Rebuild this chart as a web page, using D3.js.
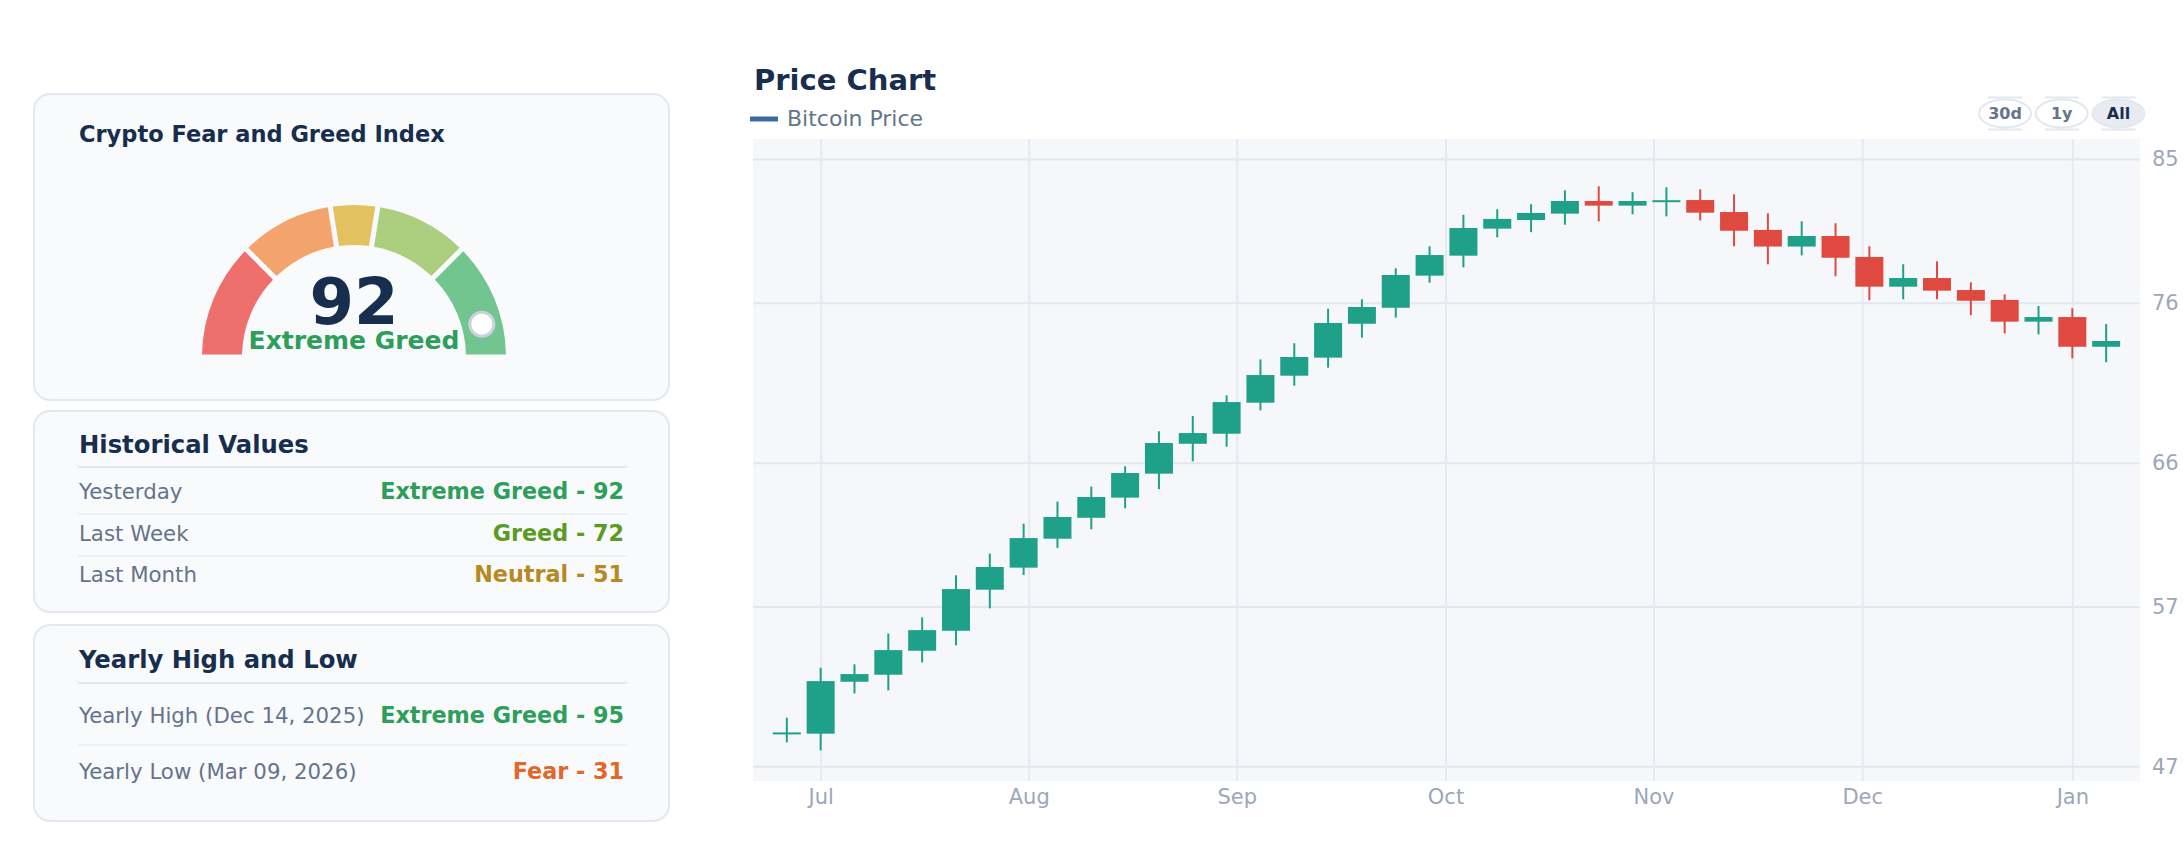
<!DOCTYPE html>
<html>
<head>
<meta charset="utf-8">
<script src="https://cdn.jsdelivr.net/npm/d3@7"></script>
<style>
  body { margin: 0; background: #fff; font-family: "DejaVu Sans", sans-serif; }
</style>
</head>
<body>
<svg id="chart" width="2184" height="868"></svg>
<script>
// gauge
const gaugeValue = 92;
const gaugeLabel = 'Extreme Greed';
const zoneBounds = [0, 25, 45, 55, 75, 100];
const zoneColors = ['#ef6f6c', '#f3a46d', '#e4c160', '#abcf7e', '#72c58e'];

// side panels
const historyLabels = ['Yesterday', 'Last Week', 'Last Month'];
const historyValues = ['Extreme Greed - 92', 'Greed - 72', 'Neutral - 51'];
const historyColors = ['#2e9e5b', '#5c9a26', '#b58a22'];
const yearlyLabels = ['Yearly High (Dec 14, 2025)', 'Yearly Low (Mar 09, 2026)'];
const yearlyValues = ['Extreme Greed - 95', 'Fear - 31'];
const yearlyColors = ['#2e9e5b', '#e2682a'];

// candles (one per ~5 days)
const opens  = [49.05, 49.04, 52.29, 52.73, 54.23, 55.48, 58.05, 59.43, 61.24, 62.55,
                63.81, 65.31, 67.18, 67.81, 69.75, 71.44, 72.57, 74.69, 75.69, 77.70,
                78.95, 80.64, 81.18, 81.58, 82.37, 82.08, 82.35, 82.43, 81.68, 80.56,
                79.52, 80.18, 78.87, 77.01, 77.55, 76.80, 76.18, 74.82, 75.11, 73.25];
const highs  = [50.04, 53.17, 53.38, 55.31, 56.32, 58.95, 60.31, 62.18, 63.56, 64.50,
                65.77, 67.96, 68.92, 70.21, 72.46, 73.47, 75.63, 76.22, 78.16, 79.54,
                81.51, 81.85, 82.17, 83.04, 83.29, 82.92, 83.23, 83.10, 82.79, 81.60,
                81.10, 80.98, 79.54, 78.41, 78.60, 77.28, 76.53, 75.80, 75.66, 74.67];
const lows   = [48.50, 48.00, 51.56, 51.75, 53.50, 54.57, 56.88, 58.97, 60.66, 61.83,
                63.14, 64.34, 66.08, 67.00, 69.27, 70.81, 71.94, 73.82, 75.07, 77.26,
                78.22, 80.10, 80.42, 80.89, 81.10, 81.54, 81.41, 81.16, 79.54, 78.41,
                78.97, 77.66, 76.16, 76.22, 76.22, 75.22, 74.09, 74.03, 72.53, 72.28];
const closes = [49.12, 52.33, 52.77, 54.27, 55.52, 58.09, 59.47, 61.28, 62.60, 63.85,
                65.35, 67.23, 67.85, 69.79, 71.48, 72.61, 74.74, 75.74, 77.74, 78.99,
                80.68, 81.25, 81.62, 82.37, 82.08, 82.37, 82.42, 81.64, 80.51, 79.52,
                80.18, 78.82, 77.01, 77.55, 76.76, 76.13, 74.82, 75.11, 73.25, 73.61];

const monthLabels = ['Jul', 'Aug', 'Sep', 'Oct', 'Nov', 'Dec', 'Jan'];
const monthPos = [1, 7.15, 13.3, 19.47, 25.62, 31.79, 38];   // candle index of month start
const yTicks = [47, 57, 66, 76, 85];
const rangeButtons = ['30d', '1y', 'All'];

const candles = opens.map((o, i) => ({ i, o, h: highs[i], l: lows[i], c: closes[i] }));

const svg = d3.select('#chart');
const navy = '#172e4e';
const slate = '#64748b';
const border = '#e3e8f0';

// ---- left cards
const cards = [[34, 94, 635, 306], [34, 411, 635, 201], [34, 625, 635, 196]];
svg.append('g')
  .selectAll('rect')
  .data(cards)
  .enter()
  .append('rect')
  .attr('x', d => d[0])
  .attr('y', d => d[1])
  .attr('width', d => d[2])
  .attr('height', d => d[3])
  .attr('rx', 16)
  .attr('fill', '#f9fafc')
  .attr('stroke', border)
  .attr('stroke-width', 2)

svg.append('text')
  .text('Crypto Fear and Greed Index')
  .attr('x', 79)
  .attr('y', 142)
  .attr('font-size', 22.5)
  .attr('font-weight', 'bold')
  .attr('fill', navy)

// gauge
const cx = 354, cy = 357;
const toAngle = (v) => -Math.PI / 2 + (v / 100) * Math.PI;
const arc = d3.arc()
  .innerRadius(112)
  .outerRadius(152)
  .padAngle(0.027)

const gauge = svg.append('g').attr('transform', `translate(${cx}, ${cy})`);

gauge.selectAll('path')
  .data(zoneColors)
  .enter()
  .append('path')
  .attr('d', (d, i) => arc({ startAngle: toAngle(zoneBounds[i]), endAngle: toAngle(zoneBounds[i + 1]) }))
  .attr('fill', d => d)

const a = toAngle(gaugeValue);
gauge.append('circle')
  .attr('cx', 132 * Math.sin(a))
  .attr('cy', -132 * Math.cos(a))
  .attr('r', 12)
  .attr('fill', '#fff')
  .attr('stroke', '#cbd2de')
  .attr('stroke-width', 3)

gauge.append('text')
  .text(gaugeValue)
  .attr('y', -33)
  .attr('text-anchor', 'middle')
  .attr('font-size', 64)
  .attr('font-weight', 'bold')
  .attr('fill', navy)

gauge.append('text')
  .text(gaugeLabel)
  .attr('y', -8)
  .attr('text-anchor', 'middle')
  .attr('font-size', 25)
  .attr('font-weight', 'bold')
  .attr('fill', '#2e9e5b')

// list cards
function listCard(title, titleY, labels, values, colors, rowYs, sepYs) {
  const g = svg.append('g');
  g.append('text')
    .text(title)
    .attr('x', 79)
    .attr('y', titleY)
    .attr('font-size', 24.3)
    .attr('font-weight', 'bold')
    .attr('fill', navy)

  g.selectAll('line')
    .data(sepYs)
    .enter()
    .append('line')
    .attr('x1', 78)
    .attr('x2', 627)
    .attr('y1', d => d)
    .attr('y2', d => d)
    .attr('stroke', (d, i) => i === 0 ? '#e2e7f0' : '#edf0f5')
    .attr('stroke-width', 2)

  g.selectAll('.lbl')
    .data(labels)
    .enter()
    .append('text')
    .attr('class', 'lbl')
    .text(d => d)
    .attr('x', 79)
    .attr('y', (d, i) => rowYs[i])
    .attr('font-size', 21.3)
    .attr('fill', slate)

  g.selectAll('.val')
    .data(values)
    .enter()
    .append('text')
    .attr('class', 'val')
    .text(d => d)
    .attr('x', 624)
    .attr('y', (d, i) => rowYs[i])
    .attr('text-anchor', 'end')
    .attr('font-size', 22.3)
    .attr('font-weight', 'bold')
    .attr('fill', (d, i) => colors[i])
}

listCard('Historical Values', 453, historyLabels, historyValues, historyColors,
  [499, 541, 582], [467, 514, 556]);
listCard('Yearly High and Low', 668, yearlyLabels, yearlyValues, yearlyColors,
  [723, 779], [683, 745]);

// ---- price chart
const plotLeft = 753, plotRight = 2140, plotTop = 139, plotBottom = 781;

svg.append('text')
  .text('Price Chart')
  .attr('x', 754)
  .attr('y', 90)
  .attr('font-size', 29)
  .attr('font-weight', 'bold')
  .attr('fill', navy)

svg.append('line')
  .attr('x1', 750).attr('x2', 778)
  .attr('y1', 119).attr('y2', 119)
  .attr('stroke', '#3b6aa0')
  .attr('stroke-width', 5)

svg.append('text')
  .text('Bitcoin Price')
  .attr('x', 787)
  .attr('y', 126)
  .attr('font-size', 22)
  .attr('fill', slate)

// range buttons
const btnX = d3.scalePoint().domain(rangeButtons).range([2005, 2118.5]);
const btn = svg.append('g')
  .selectAll('g')
  .data(rangeButtons)
  .enter()
  .append('g')
  .attr('transform', d => `translate(${btnX(d)}, 113.5)`)

btn.append('ellipse')
  .attr('rx', 26)
  .attr('ry', 14)
  .attr('fill', d => d === 'All' ? '#e8ecf2' : '#fff')
  .attr('stroke', '#e3e8f0')
  .attr('stroke-width', 2)

btn.selectAll('line')
  .data([-16, 16])
  .enter()
  .append('line')
  .attr('x1', -17).attr('x2', 17)
  .attr('y1', d => d).attr('y2', d => d)
  .attr('stroke', '#e3e8f0')
  .attr('stroke-width', 2)

btn.append('text')
  .text(d => d)
  .attr('y', 5)
  .attr('text-anchor', 'middle')
  .attr('font-size', 16)
  .attr('font-weight', 'bold')
  .attr('fill', d => d === 'All' ? navy : slate)

const xscale = d3.scaleLinear().domain([-1, 40]).range([plotLeft, plotRight]);
const yscale = d3.scaleLinear().domain([46.08, 86.25]).range([plotBottom, plotTop]);

svg.append('rect')
  .attr('x', plotLeft)
  .attr('y', plotTop)
  .attr('width', plotRight - plotLeft)
  .attr('height', plotBottom - plotTop)
  .attr('fill', '#f5f7fb')

// grid
svg.append('g')
  .attr('transform', `translate(${plotLeft}, 0)`)
  .call(d3.axisLeft(yscale).tickValues(yTicks).tickSize(-(plotRight - plotLeft)).tickFormat(''))
  .call(g => g.select('.domain').remove())
  .call(g => g.selectAll('line').attr('stroke', '#e2e7ee').attr('stroke-width', 2))

svg.append('g')
  .attr('transform', `translate(0, ${plotBottom})`)
  .call(d3.axisBottom(xscale).tickValues(monthPos).tickSize(-(plotBottom - plotTop)).tickFormat(''))
  .call(g => g.select('.domain').remove())
  .call(g => g.selectAll('line').attr('stroke', '#e6e9ef').attr('stroke-width', 2))

// axes labels
svg.append('g')
  .attr('transform', `translate(${plotRight}, 0)`)
  .call(d3.axisRight(yscale).tickValues(yTicks).tickSize(0).tickPadding(12))
  .call(g => g.select('.domain').remove())
  .call(g => g.selectAll('text')
    .attr('font-size', 21)
    .attr('font-family', '"DejaVu Sans", sans-serif')
    .attr('fill', '#9ca7b9'))

svg.append('g')
  .attr('transform', `translate(0, ${plotBottom})`)
  .call(d3.axisBottom(xscale).tickValues(monthPos).tickSize(0).tickPadding(8)
    .tickFormat((d, i) => monthLabels[i]))
  .call(g => g.select('.domain').remove())
  .call(g => g.selectAll('text')
    .attr('font-size', 21)
    .attr('font-family', '"DejaVu Sans", sans-serif')
    .attr('fill', '#9ca7b9'))

// candles
const up = '#1fa089', down = '#e0493f';
const bodyW = 28;
const candle = svg.append('g')
  .selectAll('g')
  .data(candles)
  .enter()
  .append('g')
  .attr('fill', d => d.c >= d.o ? up : down)
  .attr('stroke', d => d.c >= d.o ? up : down)

candle.append('line')
  .attr('x1', d => xscale(d.i))
  .attr('x2', d => xscale(d.i))
  .attr('y1', d => yscale(d.h))
  .attr('y2', d => yscale(d.l))
  .attr('stroke-width', 2)

candle.append('rect')
  .attr('x', d => xscale(d.i) - bodyW / 2)
  .attr('y', d => yscale(Math.max(d.o, d.c)))
  .attr('width', bodyW)
  .attr('height', d => Math.max(2, Math.abs(yscale(d.o) - yscale(d.c))))
  .attr('stroke', 'none')
</script>
</body>
</html>
